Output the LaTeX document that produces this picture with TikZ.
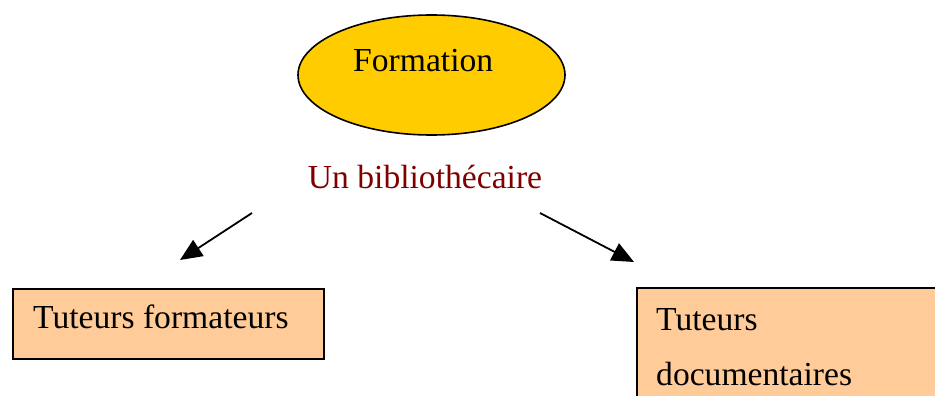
\documentclass[tikz,border=0pt]{standalone}
\usepackage{fontspec}
\setmainfont{Liberation Serif}
\usetikzlibrary{arrows.meta,shapes.geometric}
\definecolor{ovalfill}{HTML}{FFCC00}
\definecolor{boxfill}{HTML}{FFCC99}
\definecolor{titlered}{HTML}{800000}
\begin{document}
\begin{tikzpicture}[x=1pt,y=-1pt,
  every node/.style={font=\fontsize{33.6}{55}\selectfont, inner sep=0pt},
  oval/.style={ellipse, draw=black, line width=1.6pt, fill=ovalfill},
  box/.style={draw=black, line width=1.8pt, fill=boxfill, anchor=north west},
  label text/.style={anchor=base west},
  link/.style={line width=1.8pt, -{Triangle[length=22pt,width=19pt]}}]
\useasboundingbox (0,0) rectangle (935,396);

% title oval
\node[oval, minimum width=267pt, minimum height=120pt] (formation) at (431.5,75) {};
\node[label text] (formationtext) at (353,71) {Formation};

% subtitle
\node[anchor=base, text=titlered] (biblio) at (425,188) {Un bibliothécaire};

% arrow ends
\coordinate (leftstart) at (252,213);
\coordinate (lefttip) at (180,260);
\coordinate (rightstart) at (540,213);
\coordinate (righttip) at (634,262);
\draw[link] (leftstart) -- (lefttip);
\draw[link] (rightstart) -- (righttip);

% boxes
\node[box, minimum width=311pt, minimum height=70pt] (formateurs) at (12,288) {};
\node[label text] (formateurstext) at (33,328) {Tuteurs formateurs};

\node[box, minimum width=320pt, minimum height=130pt] (documentaires) at (636,287) {};
\node[label text] (doctext1) at (656,330) {Tuteurs};
\node[label text] (doctext2) at (656,385) {documentaires};
\end{tikzpicture}
\end{document}
